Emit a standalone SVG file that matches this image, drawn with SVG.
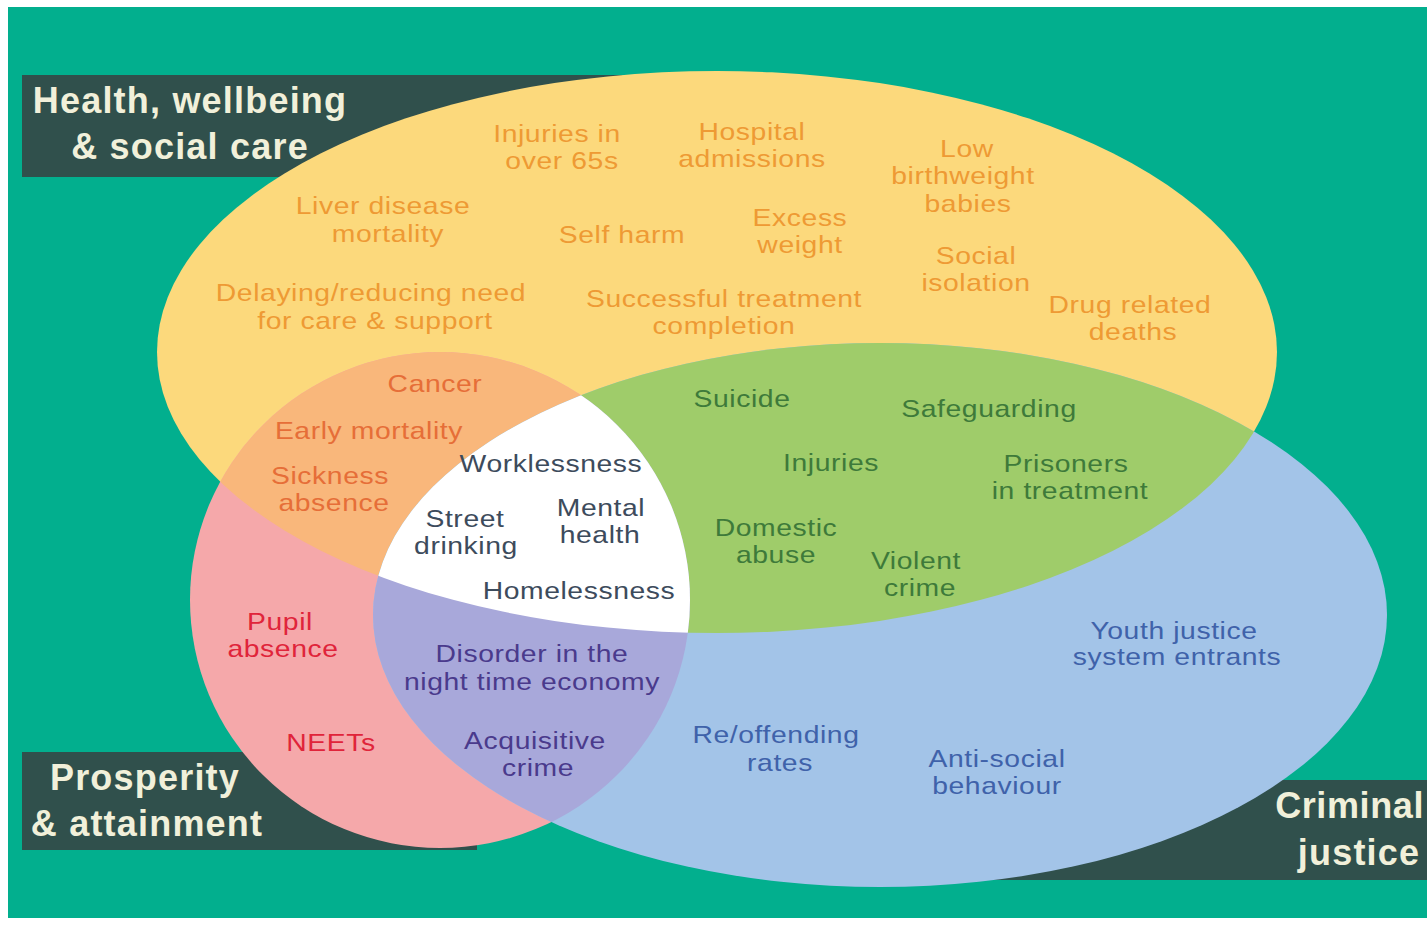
<svg xmlns="http://www.w3.org/2000/svg" width="1427" height="925" viewBox="0 0 1427 925">
<defs>
<clipPath id="cY"><ellipse cx="717" cy="352" rx="560" ry="281"/></clipPath>
<clipPath id="cP"><ellipse cx="440" cy="600" rx="250" ry="248"/></clipPath>
</defs>
<style>
text { font-family: "Liberation Sans", Arial, sans-serif; font-size: 24px; text-anchor: middle; letter-spacing: 0.5px; transform-box: fill-box; transform-origin: center; transform: scaleX(1.18); }
.lab { font-weight: bold; font-size: 36px; fill: #F1F0DA; letter-spacing: 1.2px; transform: none; }
.dark { fill: #30504C; }
.ty { fill: #EE9A34; }
.to { fill: #E66E38; }
.tw { fill: #3D4B5C; }
.tg { fill: #3E7A3A; }
.tp { fill: #E0243A; }
.tu { fill: #4A3A8C; }
.tb { fill: #3F62AA; }
</style>
<rect x="0" y="0" width="1427" height="925" fill="#FFFFFF"/>
<rect x="8" y="7" width="1419" height="911" fill="#02AF8E"/>

<g id="label-boxes">
<rect class="dark" x="22" y="75" width="600" height="102"/>
<rect class="dark" x="22" y="752" width="455" height="98"/>
<rect class="dark" x="990" y="780" width="437" height="100"/>
</g>

<g id="sets">
<ellipse id="set-health" cx="717" cy="352" rx="560" ry="281" fill="#FCD97C"/>
<ellipse id="set-prosperity" cx="440" cy="600" rx="250" ry="248" fill="#F5A8AA"/>
<ellipse id="set-justice" cx="880" cy="615" rx="507" ry="272" fill="#A3C4E8"/>
<ellipse id="overlap-health-prosperity" cx="440" cy="600" rx="250" ry="248" fill="#F9B77B" clip-path="url(#cY)"/>
<ellipse id="overlap-health-justice" cx="880" cy="615" rx="507" ry="272" fill="#9FCC6A" clip-path="url(#cY)"/>
<ellipse id="overlap-prosperity-justice" cx="880" cy="615" rx="507" ry="272" fill="#A8A8DA" clip-path="url(#cP)"/>
<g id="overlap-all" clip-path="url(#cY)">
<ellipse cx="880" cy="615" rx="507" ry="272" fill="#FFFFFF" clip-path="url(#cP)"/>
</g>
</g>

<g id="labels">
<text class="lab" x="190" y="113">Health, wellbeing</text>
<text class="lab" x="190" y="159">&amp; social care</text>
<text class="lab" x="145" y="790">Prosperity</text>
<text class="lab" x="147" y="836">&amp; attainment</text>
<text class="lab" x="1424" y="818" style="text-anchor:end;letter-spacing:0.6px">Criminal</text>
<text class="lab" x="1359" y="865">justice</text>
</g>

<g id="health-items">
<text class="ty" x="557" y="142">Injuries in</text>
<text class="ty" x="562" y="169">over 65s</text>
<text class="ty" x="752" y="140">Hospital</text>
<text class="ty" x="752" y="167">admissions</text>
<text class="ty" x="967" y="157">Low</text>
<text class="ty" x="963" y="184">birthweight</text>
<text class="ty" x="968" y="212">babies</text>
<text class="ty" x="383" y="214">Liver disease</text>
<text class="ty" x="388" y="242">mortality</text>
<text class="ty" x="622" y="243">Self harm</text>
<text class="ty" x="800" y="226">Excess</text>
<text class="ty" x="800" y="253">weight</text>
<text class="ty" x="976" y="264">Social</text>
<text class="ty" x="976" y="291">isolation</text>
<text class="ty" x="371" y="301">Delaying/reducing need</text>
<text class="ty" x="375" y="329">for care &amp; support</text>
<text class="ty" x="724" y="307">Successful treatment</text>
<text class="ty" x="724" y="334">completion</text>
<text class="ty" x="1130" y="313">Drug related</text>
<text class="ty" x="1133" y="340">deaths</text>
</g>

<g id="health-prosperity-items">
<text class="to" x="435" y="392">Cancer</text>
<text class="to" x="369" y="439">Early mortality</text>
<text class="to" x="330" y="484">Sickness</text>
<text class="to" x="334" y="511">absence</text>
</g>

<g id="all-items">
<text class="tw" x="551" y="472">Worklessness</text>
<text class="tw" x="465" y="527">Street</text>
<text class="tw" x="466" y="554">drinking</text>
<text class="tw" x="601" y="516">Mental</text>
<text class="tw" x="600" y="543">health</text>
<text class="tw" x="579" y="599">Homelessness</text>
</g>

<g id="health-justice-items">
<text class="tg" x="742" y="407">Suicide</text>
<text class="tg" x="989" y="417">Safeguarding</text>
<text class="tg" x="831" y="471">Injuries</text>
<text class="tg" x="1066" y="472">Prisoners</text>
<text class="tg" x="1070" y="499">in treatment</text>
<text class="tg" x="776" y="536">Domestic</text>
<text class="tg" x="776" y="563">abuse</text>
<text class="tg" x="916" y="569">Violent</text>
<text class="tg" x="920" y="596">crime</text>
</g>

<g id="prosperity-items">
<text class="tp" x="280" y="630">Pupil</text>
<text class="tp" x="283" y="657">absence</text>
<text class="tp" x="331" y="751">NEETs</text>
</g>

<g id="prosperity-justice-items">
<text class="tu" x="532" y="662">Disorder in the</text>
<text class="tu" x="532" y="690">night time economy</text>
<text class="tu" x="535" y="749">Acquisitive</text>
<text class="tu" x="538" y="776">crime</text>
</g>

<g id="justice-items">
<text class="tb" x="1174" y="639">Youth justice</text>
<text class="tb" x="1177" y="665">system entrants</text>
<text class="tb" x="776" y="743">Re/offending</text>
<text class="tb" x="780" y="771">rates</text>
<text class="tb" x="997" y="767">Anti-social</text>
<text class="tb" x="997" y="794">behaviour</text>
</g>
</svg>
